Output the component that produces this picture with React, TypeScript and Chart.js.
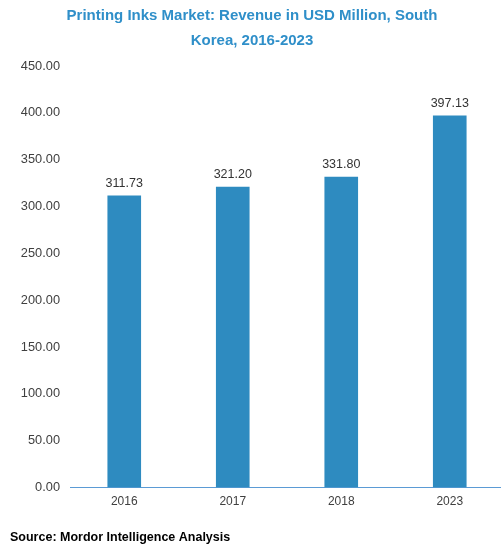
import React, { useEffect, useRef } from "react";
import { Chart, registerables } from "chart.js";

Chart.register(...registerables);

const categories: string[] = ["2016", "2017", "2018", "2023"];
const revenue: number[] = [311.73, 321.2, 331.8, 397.13];
const titleLines: string[] = ["Printing Inks Market: Revenue in USD Million, South", "Korea, 2016-2023"];
const sourceText = "Source: Mordor Intelligence Analysis";

const valueLabels = {
  id: "valueLabels",
  afterDatasetsDraw(chart: any) {
    const ctx = chart.ctx;
    const meta = chart.getDatasetMeta(0);
    const data = chart.data.datasets[0].data as number[];
    ctx.save();
    ctx.font = "12.5px 'Liberation Sans', Arial, sans-serif";
    ctx.fillStyle = "#333333";
    ctx.textAlign = "center";
    ctx.textBaseline = "bottom";
    meta.data.forEach((bar: any, i: number) => {
      ctx.fillText(data[i].toFixed(2), bar.x, bar.y - 6);
    });
    ctx.restore();
  },
};

const sourceNote = {
  id: "sourceNote",
  afterDraw(chart: any) {
    const ctx = chart.ctx;
    ctx.save();
    ctx.font = "bold 12.5px 'Liberation Sans', Arial, sans-serif";
    ctx.fillStyle = "#000000";
    ctx.textAlign = "left";
    ctx.textBaseline = "middle";
    ctx.fillText(sourceText, 10, chart.height - 10.5);
    ctx.restore();
  },
};

export default function App() {
  const ref = useRef<HTMLCanvasElement | null>(null);
  useEffect(() => {
    document.body.style.margin = "0";
    const chart = new Chart(ref.current as HTMLCanvasElement, {
      type: "bar",
      data: {
        labels: categories,
        datasets: [
          {
            data: revenue,
            backgroundColor: "#2e8bc0",
            barPercentage: 0.62,
            categoryPercentage: 0.5,
          },
        ],
      },
      options: {
        animation: false,
        responsive: false,
        layout: { padding: { left: 0, right: 0, top: 0, bottom: 32 } },
        plugins: {
          legend: { display: false },
          tooltip: { enabled: false },
          title: {
            display: true,
            text: titleLines,
            color: "#2f8fc9",
            font: { family: "'Liberation Sans', Arial, sans-serif", size: 15, weight: "bold", lineHeight: 1.667 },
            padding: { top: 3, bottom: 13 },
          },
        },
        scales: {
          x: {
            grid: { display: false, drawTicks: false },
            border: { display: true, color: "#5b9bd5", width: 1 },
            ticks: {
              color: "#404040",
              padding: 7,
              font: { family: "'Liberation Sans', Arial, sans-serif", size: 12 },
            },
          },
          y: {
            min: 0,
            max: 450,
            grid: { display: false, drawTicks: false },
            border: { display: false },
            afterFit(scale: any) {
              scale.width = 70;
            },
            ticks: {
              stepSize: 50,
              color: "#404040",
              padding: 10,
              font: { family: "'Liberation Sans', Arial, sans-serif", size: 12.8 },
              callback: (v: any) => Number(v).toFixed(2),
            },
          },
        },
      },
      plugins: [valueLabels, sourceNote],
    });
    return () => chart.destroy();
  }, []);
  return (
    <div style={{ width: 501, height: 548, overflow: "hidden" }}>
      <canvas ref={ref} width={504} height={548} style={{ display: "block" }} />
    </div>
  );
}
